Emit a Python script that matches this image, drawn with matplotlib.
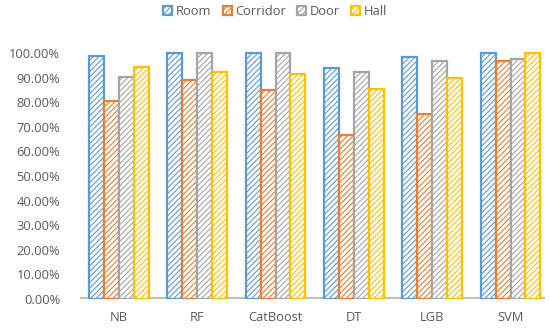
import numpy as np
import matplotlib
matplotlib.use("Agg")
import matplotlib.pyplot as plt
from matplotlib.ticker import PercentFormatter

# data
models = ["NB", "RF", "CatBoost", "DT", "LGB", "SVM"]
room = [0.988, 0.999, 1.000, 0.940, 0.982, 1.000]
corridor = [0.805, 0.890, 0.850, 0.668, 0.750, 0.969]
door = [0.903, 0.999, 0.998, 0.924, 0.967, 0.974]
hall = [0.944, 0.921, 0.913, 0.852, 0.897, 1.000]

series = [("Room", room, "#5B9BD5"),
          ("Corridor", corridor, "#ED7D31"),
          ("Door", door, "#A5A5A5"),
          ("Hall", hall, "#FFC000")]

plt.rcParams['font.family'] = ['Open Sans', 'DejaVu Sans']
plt.rcParams['hatch.linewidth'] = 0.8

fig = plt.figure(figsize=(5.5, 3.29), dpi=100)
ax = fig.add_axes([0.145, 0.0912, 0.846, 0.763])

x = np.arange(len(models))
w = 0.19
for i, (name, vals, col) in enumerate(series):
    ax.bar(x + (i - 1.5) * w, vals, w, facecolor="white", edgecolor=col,
           hatch="//////", linewidth=1.6, label=name, zorder=3)

ax.axhline(0, color="#BFBFBF", lw=3, zorder=2)

ax.set_xlim(-0.5, 5.44)
ax.set_ylim(0, 1.02)
ax.set_yticks(np.arange(0, 1.01, 0.1))
ax.yaxis.set_major_formatter(PercentFormatter(1.0, decimals=2))
ax.set_xticks(x)
ax.set_xticklabels(models)
ax.tick_params(axis="both", length=0, labelsize=9.3, colors="#595959")
ax.tick_params(axis="x", pad=9)
ax.tick_params(axis="y", pad=14)
for s in ax.spines.values():
    s.set_visible(False)

fig.legend(loc="upper center", bbox_to_anchor=(0.5, 1.02), ncol=4, frameon=False,
           fontsize=9.3, labelcolor="#595959", handlelength=0.7, handleheight=0.7,
           handletextpad=0.25, columnspacing=0.9)

fig.savefig("out.png", dpi=100)
